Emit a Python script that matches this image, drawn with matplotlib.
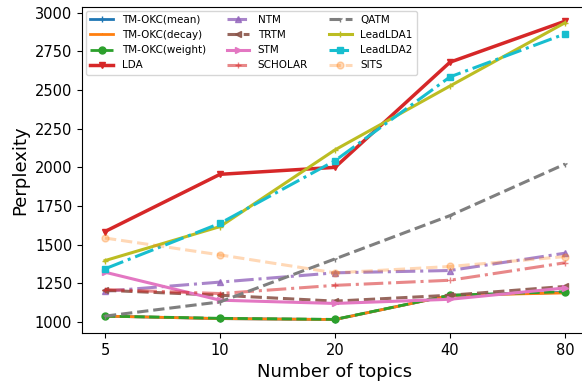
import numpy as np
import matplotlib
matplotlib.use("Agg")
import matplotlib.pyplot as plt

# ── data ──────────────────────────────────────────────────────────────────────
topics = ["5", "10", "20", "40", "80"]

tmokc_mean   = [1038, 1022, 1016, 1172, 1192]
tmokc_decay  = [1038, 1022, 1016, 1172, 1188]
tmokc_weight = [1038, 1024, 1017, 1173, 1196]
lda          = [1585, 1955, 2000, 2680, 2945]
ntm          = [1199, 1258, 1318, 1333, 1445]
trtm         = [1205, 1173, 1135, 1173, 1230]
stm          = [1322, 1141, 1120, 1147, 1220]
scholar      = [1210, 1184, 1237, 1270, 1383]
qatm         = [1038, 1130, 1408, 1688, 2021]
leadlda1     = [1397, 1617, 2113, 2526, 2935]
leadlda2     = [1344, 1638, 2043, 2585, 2863]
sits         = [1543, 1434, 1318, 1359, 1423]

# ── plot ──────────────────────────────────────────────────────────────────────
fig = plt.figure(figsize=(5.82, 3.88), dpi=100)
# right edge sits just past the canvas, like the cropped original
ax = fig.add_axes([0.1409, 0.1418, 0.8694, 0.8414])
x = np.arange(len(topics))

ax.plot(x, tmokc_mean, color="tab:blue", ls="-", marker="+", ms=4, lw=2, label="TM-OKC(mean)")
ax.plot(x, tmokc_decay, color="tab:orange", ls="-", marker=",", lw=2, label="TM-OKC(decay)")
ax.plot(x, tmokc_weight, color="tab:green", ls="--", marker="o", ms=5, lw=2, label="TM-OKC(weight)")
ax.plot(x, lda, color="tab:red", ls="-", marker="v", ms=5, lw=2.5, label="LDA")
ax.plot(x, ntm, color="tab:purple", ls="-.", marker="^", ms=5, lw=2.2, alpha=0.8, label="NTM")
ax.plot(x, trtm, color="tab:brown", ls="--", marker="<", ms=5, lw=2.2, alpha=0.9, label="TRTM")
ax.plot(x, stm, color="tab:pink", ls="-", marker=">", ms=5, lw=2.2, label="STM")
ax.plot(x, scholar, color="tab:red", ls="-.", marker="+", ms=5, lw=2.2, alpha=0.55, label="SCHOLAR")
ax.plot(x, qatm, color="tab:gray", ls="--", marker="1", ms=4, lw=2.2, label="QATM")
ax.plot(x, leadlda1, color="tab:olive", ls="-", marker="+", ms=4, lw=2.2, label="LeadLDA1")
ax.plot(x, leadlda2, color="tab:cyan", ls="-.", marker="s", ms=5, lw=2.2, label="LeadLDA2")
ax.plot(x, sits, color="tab:orange", ls="--", marker="o", ms=5, lw=2.2, alpha=0.3, label="SITS")

ax.set_xticks(x)
ax.set_xticklabels(topics)
ax.set_xlim(-0.2, 4.2)
ax.set_ylim(929, 3040)
ax.set_yticks([1000, 1250, 1500, 1750, 2000, 2250, 2500, 2750, 3000])
ax.tick_params(labelsize=10.5)
ax.set_xlabel("Number of topics", fontsize=13)
ax.set_ylabel("Perplexity", fontsize=13)

ax.legend(loc="upper left", ncol=3, fontsize=7.5, handlelength=2.2,
          columnspacing=2.0, labelspacing=0.5, borderaxespad=0.4)

plt.savefig("out.png", dpi=100)
plt.close()
